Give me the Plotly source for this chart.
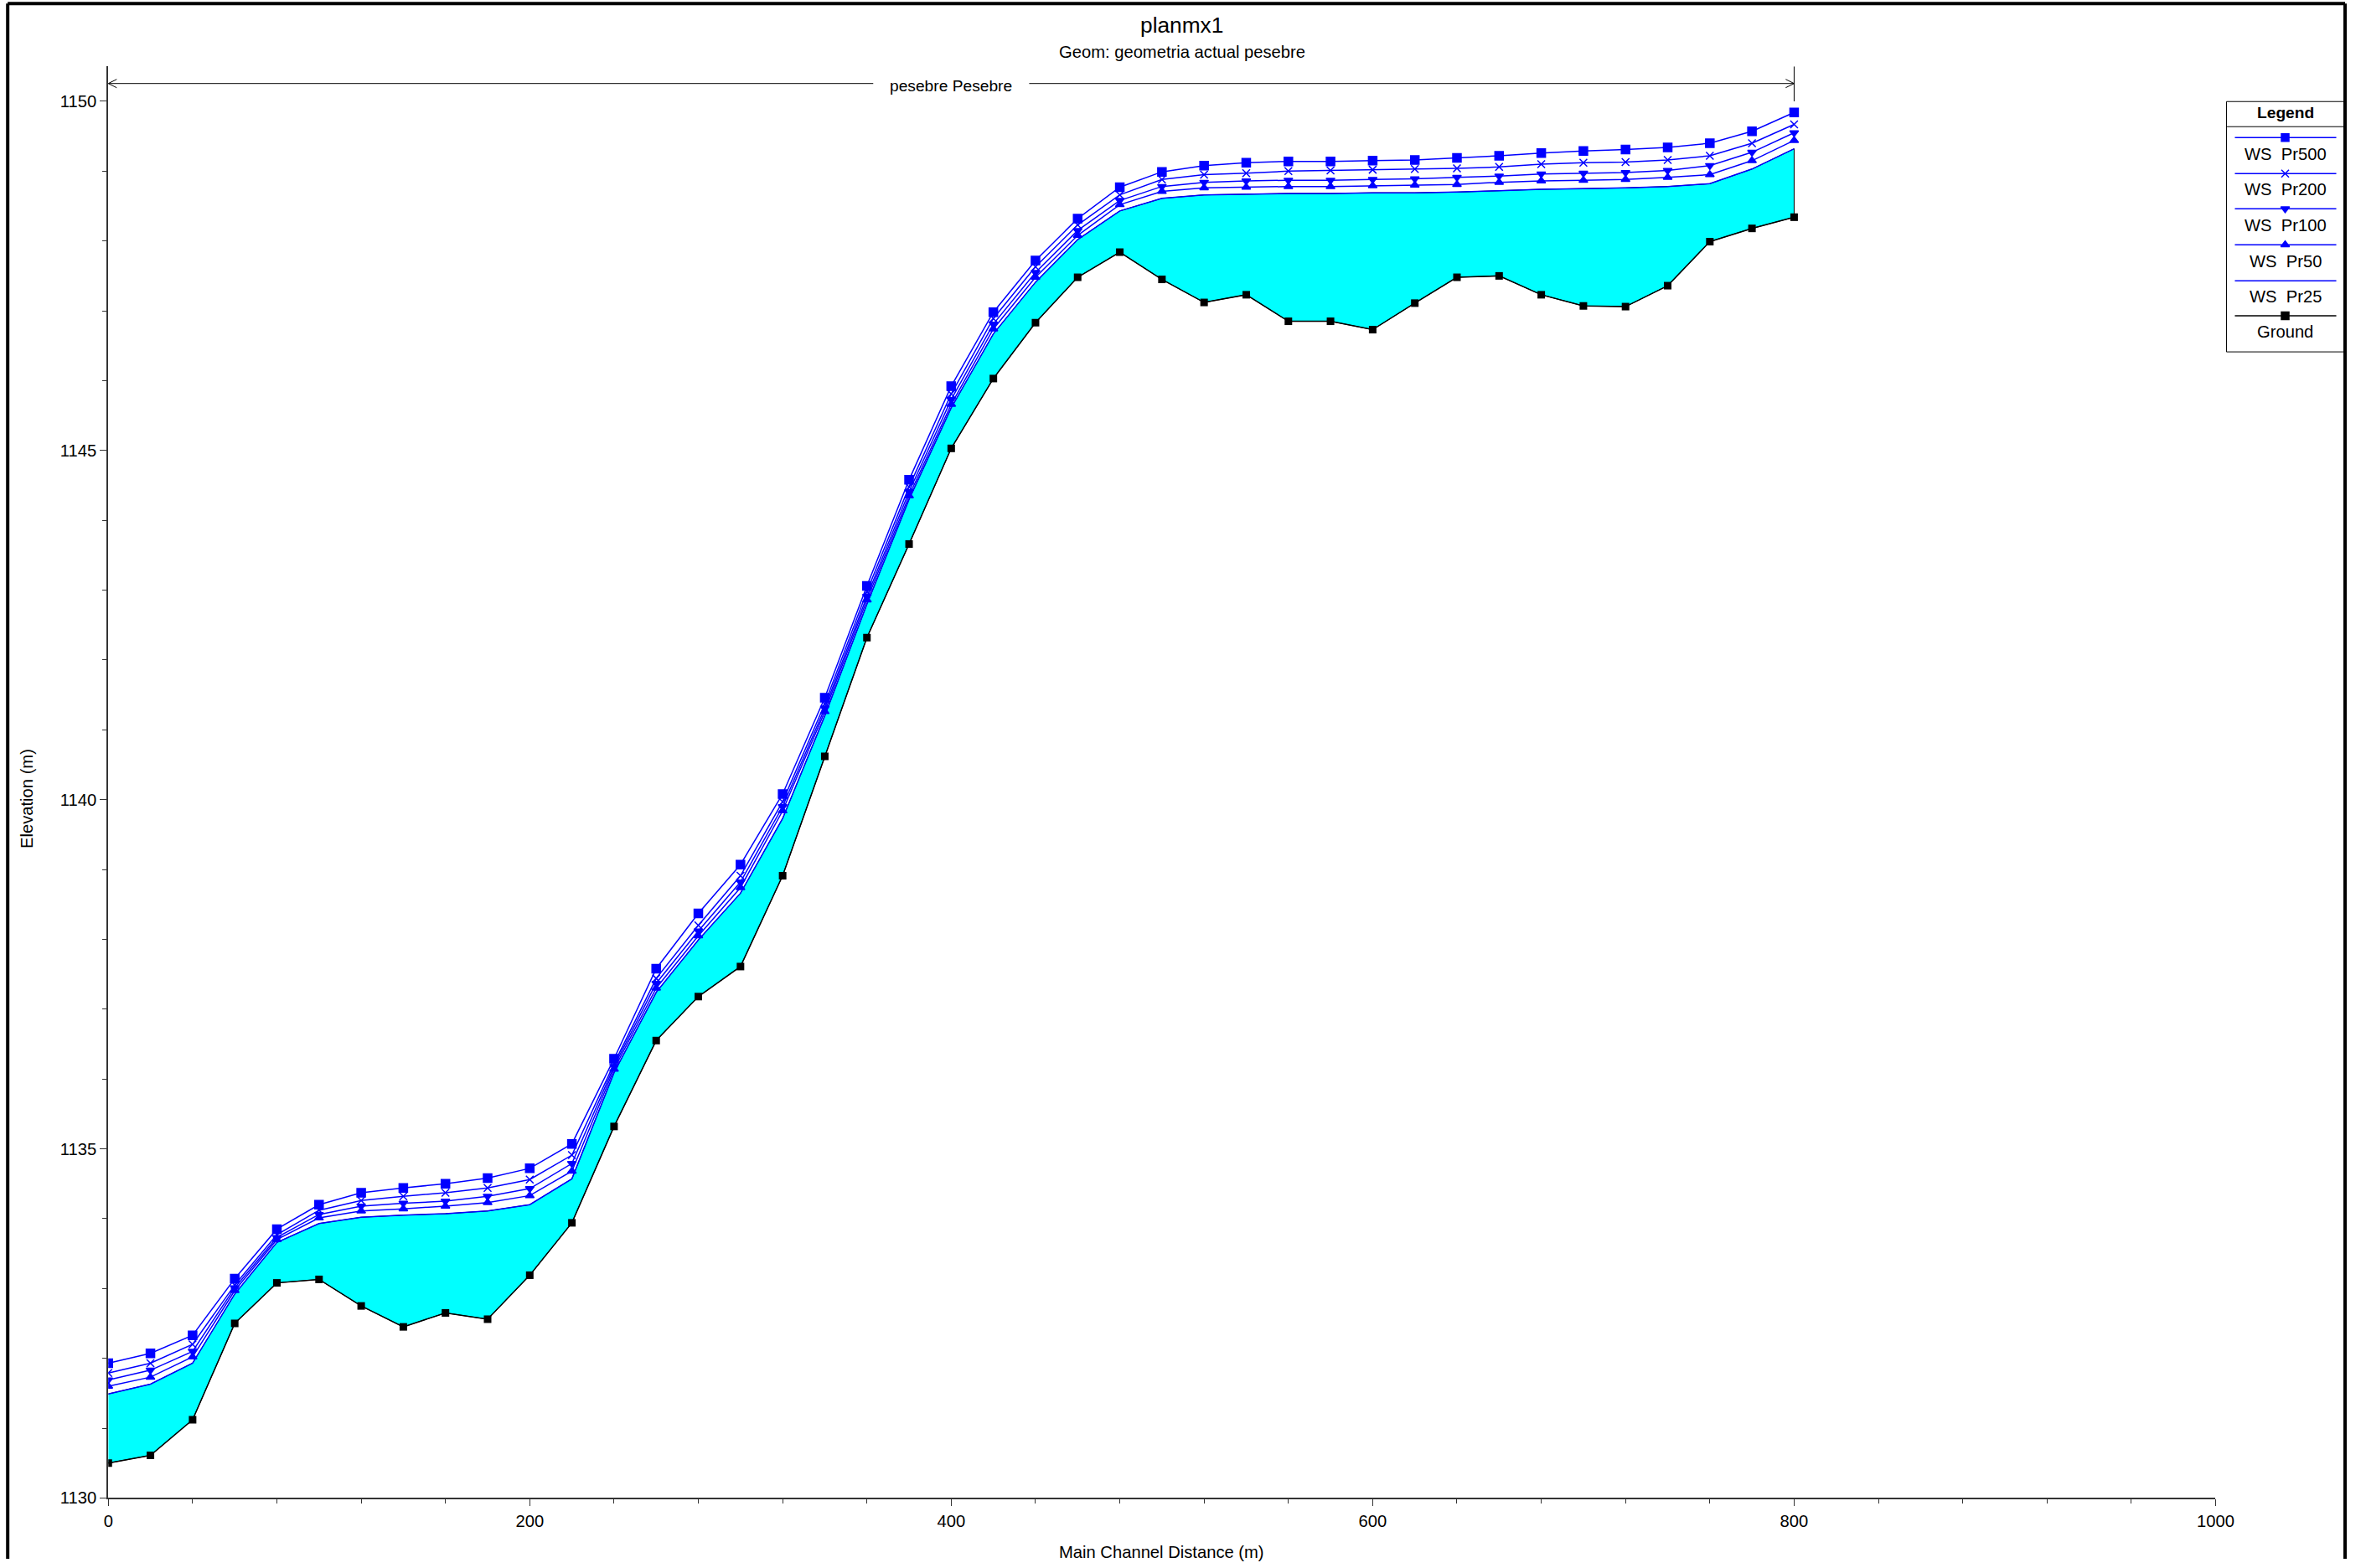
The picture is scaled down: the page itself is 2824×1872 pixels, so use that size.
import plotly.graph_objects as go

# ---------------- data ----------------
stations = list(range(0, 801, 20))

ground = [
    1130.50, 1130.61, 1131.12, 1132.50, 1133.08, 1133.13, 1132.75, 1132.45, 1132.65, 1132.56,
    1133.19, 1133.94, 1135.32, 1136.55, 1137.18, 1137.61, 1138.91, 1140.62, 1142.32, 1143.66,
    1145.03, 1146.03, 1146.83, 1147.48, 1147.84, 1147.45, 1147.12, 1147.23, 1146.85, 1146.85,
    1146.73, 1147.11, 1147.48, 1147.50, 1147.23, 1147.07, 1147.06, 1147.36, 1147.99, 1148.18,
    1148.34]
ws_pr500 = [
    1131.93, 1132.07, 1132.33, 1133.14, 1133.85, 1134.20, 1134.37, 1134.44, 1134.50, 1134.58,
    1134.72, 1135.07, 1136.29, 1137.58, 1138.37, 1139.07, 1140.08, 1141.46, 1143.06, 1144.58,
    1145.92, 1146.98, 1147.72, 1148.32, 1148.77, 1148.99, 1149.08, 1149.12, 1149.14, 1149.14,
    1149.15, 1149.16, 1149.19, 1149.22, 1149.26, 1149.29, 1149.31, 1149.34, 1149.40, 1149.57,
    1149.84]
ws_pr200 = [
    1131.79, 1131.93, 1132.20, 1133.05, 1133.77, 1134.12, 1134.26, 1134.32, 1134.37, 1134.44,
    1134.56, 1134.91, 1136.22, 1137.44, 1138.20, 1138.91, 1139.97, 1141.37, 1142.98, 1144.48,
    1145.81, 1146.89, 1147.63, 1148.23, 1148.66, 1148.88, 1148.95, 1148.97, 1149.00, 1149.01,
    1149.02, 1149.03, 1149.04, 1149.06, 1149.10, 1149.12, 1149.13, 1149.16, 1149.22, 1149.40,
    1149.67]
ws_pr100 = [
    1131.69, 1131.83, 1132.10, 1133.01, 1133.73, 1134.06, 1134.18, 1134.22, 1134.25, 1134.32,
    1134.43, 1134.79, 1136.18, 1137.37, 1138.12, 1138.82, 1139.90, 1141.31, 1142.91, 1144.41,
    1145.73, 1146.81, 1147.55, 1148.15, 1148.58, 1148.78, 1148.84, 1148.86, 1148.87, 1148.87,
    1148.88, 1148.89, 1148.91, 1148.93, 1148.96, 1148.97, 1148.98, 1149.01, 1149.08, 1149.27,
    1149.55]
ws_pr50 = [
    1131.60, 1131.73, 1132.02, 1132.97, 1133.70, 1134.01, 1134.11, 1134.14, 1134.18, 1134.23,
    1134.33, 1134.68, 1136.14, 1137.30, 1138.05, 1138.74, 1139.84, 1141.26, 1142.86, 1144.35,
    1145.66, 1146.74, 1147.48, 1148.08, 1148.52, 1148.71, 1148.76, 1148.77, 1148.78, 1148.78,
    1148.79, 1148.80, 1148.81, 1148.84, 1148.86, 1148.87, 1148.88, 1148.91, 1148.95, 1149.15,
    1149.44]
ws_pr25 = [
    1131.49, 1131.63, 1131.93, 1132.92, 1133.66, 1133.93, 1134.02, 1134.05, 1134.07, 1134.11,
    1134.20, 1134.57, 1136.09, 1137.24, 1137.99, 1138.66, 1139.73, 1141.20, 1142.80, 1144.30,
    1145.61, 1146.67, 1147.41, 1148.02, 1148.43, 1148.61, 1148.66, 1148.67, 1148.68, 1148.68,
    1148.69, 1148.69, 1148.70, 1148.72, 1148.74, 1148.75, 1148.76, 1148.78, 1148.82, 1149.03,
    1149.32]

legend_labels = ["WS  Pr500", "WS  Pr200", "WS  Pr100", "WS  Pr50", "WS  Pr25", "Ground"]
reach_label = "pesebre Pesebre"
reach_start, reach_end = 0, 800

# ---------------- styling ----------------
W, H = 2824, 1872
FONT = "Liberation Sans, Arial, sans-serif"
BLUE = "#0000FF"
CYAN = "#00FFFF"

# calibration of the photographed page vs. layout pixels
CAL_X_OFF, CAL_X_SCALE = 5.8, 1.0105
CAL_Y_OFF, CAL_Y_SCALE = 0.7, 1.0054


def pxx(x):
    return min(max((x - CAL_X_OFF) * CAL_X_SCALE, 0), W - 1) / W


def pxy(y):
    return 1 - min(max((y - CAL_Y_OFF) * CAL_Y_SCALE, 0), H) / H


FS = 20.2  # base text size

fig = go.Figure()

# water fill between ground and lowest water surface
fig.add_trace(go.Scatter(
    x=stations + stations[::-1], y=ground + ws_pr25[::-1],
    mode="lines", fill="toself", fillcolor=CYAN,
    line=dict(color="black", width=1), hoverinfo="skip", showlegend=False))

series = [
    (ws_pr500, "square", 10, BLUE),
    (ws_pr200, "x-thin", 9, BLUE),
    (ws_pr100, "triangle-down", 9, BLUE),
    (ws_pr50, "triangle-up", 9, BLUE),
    (ws_pr25, None, 0, BLUE),
]
for (vals, sym, size, col), name in zip(series, legend_labels[:5]):
    if sym:
        fig.add_trace(go.Scatter(
            x=stations, y=vals, name=name, mode="lines+markers",
            line=dict(color=col, width=1.5),
            marker=dict(symbol=sym, size=size, color=col,
                        line=dict(color=col, width=1.5)),
            showlegend=False))
    else:
        fig.add_trace(go.Scatter(
            x=stations, y=vals, name=name, mode="lines",
            line=dict(color=col, width=1.5), showlegend=False))

fig.add_trace(go.Scatter(
    x=stations, y=ground, name="Ground", mode="lines+markers",
    line=dict(color="black", width=1.5),
    marker=dict(symbol="square", size=9, color="black"),
    showlegend=False))

# ---------------- custom legend (overlay axes in paper fractions) ----------------
leg_x0, leg_x1, leg_y0, leg_y1 = 2656, 2796, 122, 421
line_ys = [165, 208, 250, 293, 336, 378]
label_ys = [185, 227, 270, 313, 355, 397]
leg_syms = ["square", "x-thin", "triangle-down", "triangle-up", None, "square"]
leg_cols = [BLUE] * 5 + ["black"]
leg_cx = 2726

shapes = []
annotations = []
shapes.append(dict(type="rect", xref="paper", yref="paper",
                   x0=pxx(leg_x0), x1=pxx(leg_x1), y0=pxy(leg_y1), y1=pxy(leg_y0),
                   line=dict(color="black", width=1), fillcolor="white", layer="below"))
shapes.append(dict(type="line", xref="paper", yref="paper",
                   x0=pxx(leg_x0), x1=pxx(leg_x1), y0=pxy(152), y1=pxy(152),
                   line=dict(color="black", width=1)))
annotations.append(dict(text="<b>Legend</b>", xref="paper", yref="paper",
                        x=pxx(leg_cx), y=pxy(135), showarrow=False,
                        xanchor="center", yanchor="middle",
                        font=dict(family=FONT, size=19.2, color="black")))
for lab, ly, ty, sym, col in zip(legend_labels, line_ys, label_ys, leg_syms, leg_cols):
    shapes.append(dict(type="line", xref="paper", yref="paper",
                       x0=pxx(2666), x1=pxx(2787), y0=pxy(ly), y1=pxy(ly),
                       line=dict(color=col, width=1.5)))
    annotations.append(dict(text=lab, xref="paper", yref="paper",
                            x=pxx(leg_cx), y=pxy(ty), showarrow=False,
                            xanchor="center", yanchor="middle",
                            font=dict(family=FONT, size=FS, color="black")))
    if sym:
        fig.add_trace(go.Scatter(
            x=[pxx(leg_cx)], y=[pxy(ly)], xaxis="x2", yaxis="y2", mode="markers",
            marker=dict(symbol=sym, size=9, color=col,
                        line=dict(color=col, width=1.5)),
            showlegend=False, hoverinfo="skip"))

# ---------------- reach bracket ----------------
by = 1150.255
mid = (reach_start + reach_end) / 2
gap = 37
bracket_line = dict(color="black", width=1)
shapes += [
    dict(type="line", xref="x", yref="y", x0=reach_start, x1=mid - gap, y0=by, y1=by, line=bracket_line),
    dict(type="line", xref="x", yref="y", x0=mid + gap, x1=reach_end, y0=by, y1=by, line=bracket_line),
    dict(type="line", xref="x", yref="y", x0=reach_start, x1=reach_start + 4, y0=by, y1=by + 0.06, line=bracket_line),
    dict(type="line", xref="x", yref="y", x0=reach_start, x1=reach_start + 4, y0=by, y1=by - 0.06, line=bracket_line),
    dict(type="line", xref="x", yref="y", x0=reach_end, x1=reach_end - 4, y0=by, y1=by + 0.06, line=bracket_line),
    dict(type="line", xref="x", yref="y", x0=reach_end, x1=reach_end - 4, y0=by, y1=by - 0.06, line=bracket_line),
    dict(type="line", xref="x", yref="y", x0=reach_end, x1=reach_end, y0=1150.0, y1=1150.5, line=bracket_line),
]
annotations.append(dict(text=reach_label, xref="x", yref="paper", x=mid, y=pxy(103),
                        showarrow=False, xanchor="center", yanchor="middle",
                        font=dict(family=FONT, size=19.2, color="black")))

# ---------------- titles ----------------
annotations += [
    dict(text="planmx1", xref="paper", yref="paper", x=pxx(1410), y=pxy(31),
         showarrow=False, xanchor="center", yanchor="middle",
         font=dict(family=FONT, size=26.3, color="black")),
    dict(text="Geom: geometria actual pesebre", xref="paper", yref="paper",
         x=pxx(1410), y=pxy(63), showarrow=False, xanchor="center", yanchor="middle",
         font=dict(family=FONT, size=FS, color="black")),
    dict(text="Main Channel Distance (m)", xref="paper", yref="paper",
         x=pxx(1386), y=pxy(1855), showarrow=False, xanchor="center", yanchor="middle",
         font=dict(family=FONT, size=FS, color="black")),
    dict(text="Elevation (m)", xref="paper", yref="paper", textangle=-90,
         x=pxx(32), y=pxy(955), showarrow=False, xanchor="center", yanchor="middle",
         font=dict(family=FONT, size=FS, color="black")),
]

# outer frame (left, top, right edges; bottom lies outside the picture)
frame = dict(color="black", width=4)
fx0, fx1, fy0 = pxx(9), min(pxx(2806), (W - 3) / W), pxy(5)
shapes += [
    dict(type="line", xref="paper", yref="paper", x0=fx0, x1=fx0, y0=0, y1=fy0, line=frame),
    dict(type="line", xref="paper", yref="paper", x0=fx0, x1=fx1, y0=fy0, y1=fy0, line=frame),
    dict(type="line", xref="paper", yref="paper", x0=fx1, x1=fx1, y0=0, y1=fy0, line=frame),
]

axis_common = dict(
    showgrid=False, zeroline=False, showline=True, linecolor="#333333", linewidth=2,
    ticks="outside", ticklen=8, tickwidth=1, tickcolor="#333333",
    tickfont=dict(family=FONT, size=FS, color="black"),
)

fig.update_layout(
    width=W, height=H,
    paper_bgcolor="white", plot_bgcolor="rgba(0,0,0,0)",
    margin=dict(l=0, r=0, t=0, b=0),
    showlegend=False,
    xaxis=dict(domain=[pxx(129), pxx(2643)], range=[0, 1000], dtick=200, tick0=0,
               minor=dict(dtick=40, ticklen=5, ticks="outside", tickcolor="#333333"),
               anchor="y", **axis_common),
    yaxis=dict(domain=[pxy(1790), pxy(80)], range=[1130, 1150.5], dtick=5, tick0=1130,
               minor=dict(dtick=1, ticklen=5, ticks="outside", tickcolor="#333333"),
               anchor="x", **axis_common),
    xaxis2=dict(domain=[0, 1], range=[0, 1], visible=False, anchor="y2", fixedrange=True),
    yaxis2=dict(domain=[0, 1], range=[0, 1], visible=False, anchor="x2", fixedrange=True),
    shapes=shapes,
    annotations=annotations,
    font=dict(family=FONT, size=FS, color="black"),
)

fig.write_html(
    "out.html",
    config={"displayModeBar": False},
    post_script="document.body.style.margin='0';",
)
